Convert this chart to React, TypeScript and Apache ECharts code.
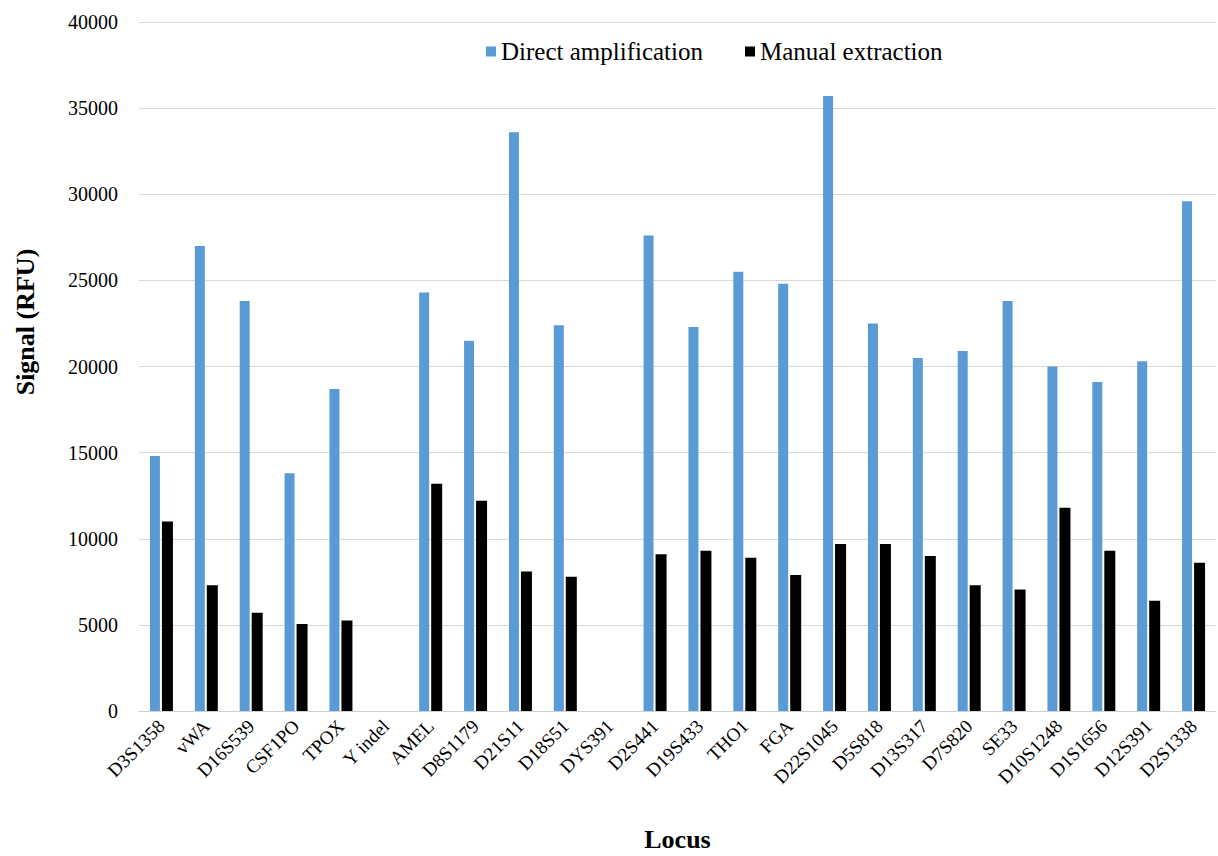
import React, { useEffect, useRef } from "react";
import * as echarts from "echarts";

const categories = [
  "D3S1358", "vWA", "D16S539", "CSF1PO", "TPOX", "Y indel", "AMEL", "D8S1179",
  "D21S11", "D18S51", "DYS391", "D2S441", "D19S433", "THO1", "FGA", "D22S1045",
  "D5S818", "D13S317", "D7S820", "SE33", "D10S1248", "D1S1656", "D12S391", "D2S1338",
];
const directAmplification = [
  14800, 27000, 23800, 13800, 18700, 0, 24300, 21500,
  33600, 22400, 0, 27600, 22300, 25500, 24800, 35700,
  22500, 20500, 20900, 23800, 20000, 19100, 20300, 29600,
];
const manualExtraction = [
  11000, 7300, 5700, 5050, 5250, 0, 13200, 12200,
  8100, 7800, 0, 9100, 9300, 8900, 7900, 9700,
  9700, 9000, 7300, 7050, 11800, 9300, 6400, 8600,
];
const seriesNames = ["Direct amplification", "Manual extraction"];

const FONT = "Liberation Serif";

export default function App() {
  const ref = useRef<HTMLDivElement>(null);
  useEffect(() => {
    document.body.style.margin = "0";
    const chart = echarts.init(ref.current!, null, { renderer: "svg" });
    const legendText = { fontFamily: FONT, fontSize: 25, color: "#000" };
    chart.setOption({
      animation: false,
      backgroundColor: "#ffffff",
      textStyle: { fontFamily: FONT, color: "#000" },
      legend: {
        top: 34,
        left: 481,
        itemWidth: 10,
        itemHeight: 10,
        itemGap: 42,
        icon: "rect",
        textStyle: legendText,
        data: seriesNames.map((n) => ({ name: n, textStyle: legendText })),
      },
      grid: {
        left: 139,
        right: 2,
        top: 22,
        bottom: 145,
        containLabel: false,
        outerBoundsMode: "none",
      },
      xAxis: {
        type: "category",
        data: categories,
        name: "Locus",
        nameLocation: "middle",
        nameGap: 115,
        nameTextStyle: { fontFamily: FONT, fontSize: 26, fontWeight: "bold", color: "#000" },
        axisLine: { show: true, lineStyle: { color: "#d0d0d0", width: 1 } },
        axisTick: { show: false },
        axisLabel: {
          interval: 0,
          rotate: 45,
          margin: 12,
          fontFamily: FONT,
          fontSize: 19,
          color: "#000",
        },
      },
      yAxis: {
        type: "value",
        min: 0,
        max: 40000,
        interval: 5000,
        axisLine: { show: false },
        axisTick: { show: false },
        axisLabel: {
          margin: 21,
          fontFamily: FONT,
          fontSize: 20,
          color: "#000",
          formatter: (v: number) => String(v),
        },
        splitLine: { lineStyle: { color: "#d9d9d9", width: 1 } },
      },
      graphic: [
        {
          type: "text",
          x: 25,
          y: 322,
          rotation: Math.PI / 2,
          style: {
            text: "Signal (RFU)",
            font: "bold 26px 'Liberation Serif'",
            fill: "#000",
            textAlign: "center",
            textVerticalAlign: "middle",
          },
        },
      ],
      series: [
        {
          name: seriesNames[0],
          type: "bar",
          data: directAmplification,
          barWidth: 10,
          barGap: "20%",
          itemStyle: { color: "#5B9BD5" },
        },
        {
          name: seriesNames[1],
          type: "bar",
          data: manualExtraction,
          barWidth: 11,
          barGap: "20%",
          itemStyle: { color: "#000000" },
        },
      ],
    });
    return () => chart.dispose();
  }, []);
  return <div ref={ref} style={{ width: 1218, height: 856 }} />;
}
